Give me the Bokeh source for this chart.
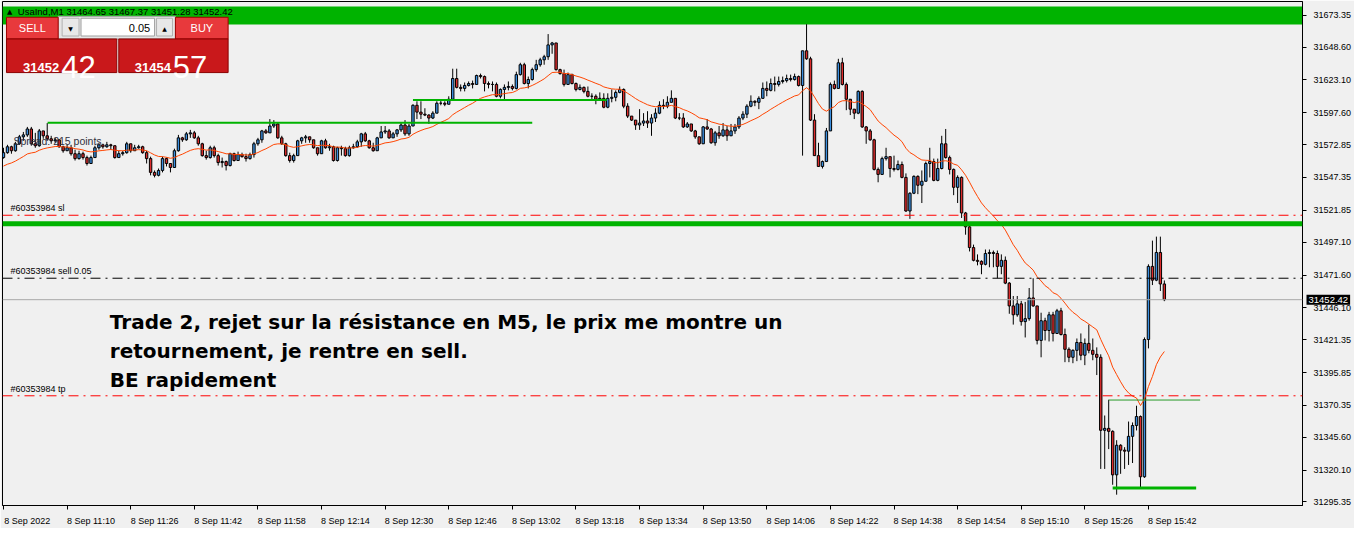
from bokeh.plotting import figure
from bokeh.models import (Range1d, FixedTicker, PrintfTickFormatter, Span, Label,
                          BoxAnnotation, ColumnDataSource, LinearAxis)
from bokeh.embed import file_html
from bokeh.resources import INLINE

# ---------------- data ----------------
symbol = "UsaInd"
timeframe = "M1"
first_open = 31562.8

closes = [
31566.6, 31571.2, 31568.1, 31573.5, 31578.9, 31580.4, 31585.0, 31573.5, 31572.0, 31583.5,
31579.7, 31577.4, 31575.8, 31576.6, 31571.2, 31568.1, 31570.4, 31565.8, 31562.0, 31565.8,
31562.8, 31558.2, 31562.8, 31570.4, 31572.7, 31571.2, 31572.7, 31572.0, 31562.8, 31565.8,
31566.6, 31573.5, 31568.1, 31570.4, 31571.2, 31566.6, 31562.0, 31551.3, 31549.0, 31552.8,
31562.0, 31558.2, 31555.1, 31568.1, 31578.1, 31576.6, 31581.2, 31582.0, 31578.1, 31573.5,
31564.3, 31562.8, 31570.4, 31564.3, 31558.9, 31559.7, 31556.6, 31565.8, 31560.5, 31565.1,
31563.5, 31562.0, 31565.1, 31573.5, 31576.6, 31583.5, 31582.0, 31587.3, 31588.9, 31578.1,
31573.5, 31564.3, 31560.5, 31564.3, 31575.8, 31578.1, 31578.9, 31576.6, 31570.4, 31565.8,
31575.8, 31570.4, 31571.2, 31560.5, 31570.4, 31569.7, 31564.3, 31570.4, 31571.2, 31575.0,
31581.2, 31575.8, 31570.4, 31568.1, 31578.1, 31582.7, 31583.5, 31578.1, 31581.2, 31584.3,
31588.1, 31581.2, 31587.3, 31603.4, 31598.1, 31596.5, 31595.8, 31593.5, 31597.3, 31605.0,
31605.0, 31604.2, 31608.1, 31624.2, 31617.3, 31616.5, 31618.8, 31620.3, 31619.6, 31626.5,
31625.7, 31620.3, 31619.6, 31619.6, 31610.4, 31615.7, 31617.3, 31618.0, 31616.5, 31627.2,
31634.9, 31620.3, 31623.4, 31631.1, 31634.9, 31638.7, 31641.1, 31650.3, 31651.8, 31631.1,
31628.0, 31619.6, 31627.2, 31620.3, 31615.7, 31617.3, 31614.2, 31610.4, 31610.4, 31608.1,
31608.8, 31601.9, 31608.8, 31609.6, 31613.4, 31615.7, 31602.7, 31595.0, 31591.9, 31588.1,
31589.6, 31591.2, 31589.6, 31593.5, 31597.3, 31603.4, 31602.7, 31605.7, 31608.8, 31593.5,
31593.5, 31586.6, 31588.9, 31583.5, 31578.9, 31573.5, 31586.6, 31585.0, 31574.3, 31582.0,
31579.7, 31584.3, 31579.7, 31583.5, 31586.6, 31593.5, 31596.5, 31602.7, 31606.5, 31605.7,
31608.8, 31616.5, 31615.0, 31620.3, 31619.6, 31621.9, 31622.6, 31624.2, 31623.4, 31625.7,
31618.8, 31645.7, 31639.5, 31591.9, 31564.3, 31555.9, 31559.7, 31583.5, 31619.6, 31616.5,
31636.4, 31619.6, 31608.1, 31600.4, 31597.3, 31614.2, 31586.6, 31583.5, 31576.6, 31553.6,
31549.7, 31562.0, 31563.5, 31554.3, 31553.6, 31557.4, 31547.4, 31521.3, 31535.1, 31548.2,
31541.3, 31544.4, 31558.2, 31559.7, 31545.1, 31554.3, 31573.5, 31562.8, 31553.6, 31539.7,
31547.4, 31519.8, 31509.0, 31492.9, 31483.0, 31482.2, 31479.9, 31488.3, 31489.1, 31488.3,
31478.3, 31483.0, 31465.3, 31447.6, 31440.7, 31449.2, 31435.4, 31437.7, 31453.8, 31447.6,
31420.8, 31436.1, 31428.5, 31440.7, 31426.2, 31443.8, 31425.4, 31413.9, 31407.7, 31413.1,
31419.2, 31409.3, 31418.5, 31413.1, 31410.0, 31407.7, 31351.0, 31352.5, 31350.2, 31316.4,
31339.4, 31335.6, 31334.8, 31346.3, 31354.7, 31361.7, 31314.9, 31421.5, 31478.3, 31467.6,
31489.1, 31464.65, 31452.42]

highs = [
31570.4, 31572.7, 31572.0, 31575.0, 31580.4, 31582.7, 31586.6, 31586.6, 31582.0, 31585.0,
31583.5, 31589.6, 31579.7, 31578.1, 31576.6, 31572.0, 31572.7, 31572.7, 31568.9, 31568.1,
31567.4, 31564.3, 31564.3, 31572.0, 31574.3, 31573.5, 31575.0, 31573.5, 31572.0, 31568.1,
31568.1, 31575.0, 31572.0, 31572.7, 31572.7, 31572.0, 31568.1, 31563.5, 31552.8, 31554.3,
31563.5, 31562.8, 31558.2, 31569.7, 31580.4, 31578.9, 31582.7, 31584.3, 31583.5, 31579.7,
31574.3, 31568.1, 31572.0, 31572.0, 31565.8, 31562.8, 31560.5, 31566.6, 31566.6, 31567.4,
31566.6, 31565.8, 31566.6, 31575.0, 31578.1, 31584.3, 31585.0, 31592.7, 31591.9, 31590.4,
31579.7, 31574.3, 31566.6, 31565.8, 31576.6, 31578.9, 31580.4, 31578.9, 31575.8, 31570.4,
31576.6, 31577.4, 31573.5, 31572.0, 31571.2, 31572.0, 31571.2, 31572.0, 31573.5, 31576.6,
31582.0, 31582.7, 31576.6, 31574.3, 31578.9, 31587.3, 31587.3, 31585.0, 31582.7, 31585.0,
31589.6, 31591.9, 31588.9, 31604.2, 31606.5, 31606.5, 31601.1, 31596.5, 31598.8, 31606.5,
31607.3, 31606.5, 31610.4, 31631.8, 31631.8, 31619.6, 31621.1, 31621.9, 31622.6, 31627.2,
31628.0, 31626.5, 31621.9, 31621.9, 31621.1, 31616.5, 31619.6, 31621.9, 31619.6, 31629.5,
31636.4, 31636.4, 31625.7, 31632.6, 31638.7, 31640.3, 31642.6, 31658.7, 31652.6, 31647.2,
31631.8, 31631.1, 31628.8, 31628.0, 31621.1, 31619.6, 31618.0, 31618.0, 31612.7, 31611.9,
31613.4, 31612.7, 31612.7, 31615.7, 31615.0, 31618.0, 31616.5, 31605.0, 31595.0, 31591.2,
31600.4, 31597.3, 31598.8, 31596.5, 31601.1, 31606.5, 31608.1, 31610.4, 31615.0, 31607.3,
31597.3, 31597.3, 31590.4, 31588.9, 31584.3, 31578.9, 31587.3, 31592.7, 31585.8, 31583.5,
31587.3, 31589.6, 31587.3, 31588.9, 31588.9, 31595.0, 31598.8, 31604.2, 31611.1, 31607.3,
31610.4, 31621.1, 31621.9, 31624.2, 31625.7, 31625.7, 31625.7, 31627.2, 31627.2, 31628.0,
31626.5, 31645.7, 31666.4, 31641.1, 31596.5, 31574.3, 31560.5, 31585.8, 31621.1, 31622.6,
31639.5, 31640.3, 31621.1, 31608.1, 31600.4, 31615.0, 31615.0, 31587.3, 31585.0, 31577.4,
31555.1, 31563.5, 31570.4, 31563.5, 31564.3, 31560.5, 31559.7, 31550.5, 31535.9, 31549.0,
31549.0, 31552.8, 31559.7, 31570.4, 31562.0, 31562.0, 31579.7, 31585.0, 31564.3, 31554.3,
31549.0, 31548.2, 31520.6, 31510.6, 31495.2, 31487.6, 31483.0, 31491.4, 31491.4, 31490.6,
31490.6, 31487.6, 31486.0, 31466.1, 31455.3, 31455.3, 31451.5, 31450.7, 31461.5, 31469.1,
31446.9, 31442.3, 31438.4, 31443.0, 31443.0, 31445.3, 31446.1, 31430.0, 31415.4, 31413.9,
31422.3, 31426.2, 31422.3, 31433.1, 31422.3, 31415.4, 31410.0, 31362.5, 31374.7, 31351.0,
31343.3, 31340.2, 31337.9, 31357.8, 31357.1, 31370.1, 31362.5, 31423.1, 31479.9, 31498.3,
31501.4, 31501.4, 31467.37]

lows = [
31562.0, 31565.8, 31565.8, 31567.4, 31572.7, 31575.8, 31578.9, 31572.0, 31570.4, 31571.2,
31577.4, 31575.8, 31573.5, 31574.3, 31570.4, 31566.6, 31568.1, 31564.3, 31560.5, 31561.2,
31561.2, 31556.6, 31558.2, 31562.8, 31568.9, 31569.7, 31570.4, 31568.9, 31562.0, 31562.8,
31564.3, 31565.8, 31566.6, 31568.1, 31569.7, 31565.8, 31558.2, 31549.0, 31547.4, 31548.2,
31551.3, 31555.9, 31551.3, 31555.1, 31567.4, 31575.0, 31575.8, 31578.1, 31577.4, 31572.0,
31563.5, 31561.2, 31562.0, 31562.8, 31556.6, 31555.1, 31552.8, 31555.9, 31559.7, 31560.5,
31562.8, 31559.7, 31561.2, 31562.8, 31572.0, 31574.3, 31581.2, 31582.7, 31585.8, 31577.4,
31572.7, 31563.5, 31558.9, 31558.9, 31564.3, 31573.5, 31574.3, 31574.3, 31569.7, 31564.3,
31566.6, 31569.7, 31568.1, 31559.7, 31559.7, 31564.3, 31563.5, 31563.5, 31569.7, 31570.4,
31571.2, 31575.0, 31569.7, 31567.4, 31568.1, 31578.1, 31581.2, 31577.4, 31578.9, 31578.9,
31582.7, 31579.7, 31579.7, 31587.3, 31592.7, 31592.7, 31595.0, 31588.9, 31592.7, 31597.3,
31603.4, 31602.7, 31604.2, 31608.1, 31616.5, 31614.2, 31614.2, 31618.0, 31616.5, 31619.6,
31624.2, 31614.2, 31616.5, 31614.2, 31609.6, 31608.8, 31607.3, 31615.0, 31615.0, 31615.7,
31626.5, 31619.6, 31616.5, 31622.6, 31629.5, 31633.4, 31634.9, 31638.7, 31643.4, 31630.3,
31627.2, 31618.0, 31619.6, 31619.6, 31614.2, 31615.0, 31612.7, 31609.6, 31608.1, 31604.2,
31607.3, 31601.1, 31601.1, 31605.7, 31606.5, 31612.7, 31601.1, 31593.5, 31591.2, 31584.3,
31584.3, 31587.3, 31585.8, 31579.7, 31590.4, 31596.5, 31600.4, 31601.1, 31605.7, 31592.7,
31591.9, 31585.8, 31585.8, 31582.7, 31577.4, 31572.7, 31573.5, 31584.3, 31573.5, 31572.0,
31577.4, 31578.9, 31575.8, 31579.7, 31581.2, 31585.0, 31591.9, 31593.5, 31601.9, 31602.7,
31600.4, 31608.8, 31610.4, 31614.2, 31614.2, 31618.0, 31620.3, 31621.1, 31621.9, 31622.6,
31618.0, 31564.3, 31638.7, 31591.2, 31564.3, 31555.9, 31554.3, 31559.7, 31584.3, 31615.7,
31616.5, 31618.8, 31599.6, 31595.8, 31592.7, 31596.5, 31585.8, 31573.5, 31575.8, 31552.8,
31543.6, 31550.5, 31560.5, 31547.4, 31552.0, 31552.8, 31546.7, 31520.6, 31515.2, 31534.4,
31534.4, 31527.5, 31544.4, 31547.4, 31544.4, 31544.4, 31553.6, 31562.0, 31549.7, 31533.6,
31527.5, 31515.9, 31502.9, 31489.9, 31482.2, 31479.1, 31472.2, 31479.1, 31477.6, 31477.6,
31469.1, 31472.2, 31464.5, 31441.5, 31433.1, 31439.2, 31432.3, 31423.1, 31436.1, 31446.9,
31417.7, 31407.7, 31420.8, 31420.0, 31420.0, 31426.2, 31424.6, 31403.9, 31403.9, 31403.1,
31404.7, 31405.4, 31401.6, 31410.8, 31405.4, 31393.9, 31321.0, 31321.0, 31336.4, 31308.7,
31301.0, 31317.2, 31321.0, 31324.1, 31325.6, 31350.9, 31306.4, 31314.1, 31414.6, 31463.8,
31466.8, 31459.2, 31451.28]

ema_period = 20
ema_seed = 31555.1

x_tick_bars = [0, 16, 32, 48, 64, 80, 96, 112, 128, 144, 160, 176, 192, 208, 224, 240, 256, 272, 288]
x_tick_labels = ["8 Sep 2022", "8 Sep 11:10", "8 Sep 11:26", "8 Sep 11:42", "8 Sep 11:58",
                 "8 Sep 12:14", "8 Sep 12:30", "8 Sep 12:46", "8 Sep 13:02", "8 Sep 13:18",
                 "8 Sep 13:34", "8 Sep 13:50", "8 Sep 14:06", "8 Sep 14:22", "8 Sep 14:38",
                 "8 Sep 14:54", "8 Sep 15:10", "8 Sep 15:26", "8 Sep 15:42"]
y_ticks = [31673.35, 31648.60, 31623.10, 31597.60, 31572.85, 31547.35, 31521.85, 31497.10,
           31471.60, 31446.10, 31421.35, 31395.85, 31370.35, 31345.60, 31320.10, 31295.35]

zone_bottom, zone_top = 31666.2, 31680.2
resistance_level = 31511.5
order_id = "#60353984"
lot = 0.05
sl_price = 31518.0
entry_price = 31469.1
tp_price = 31377.8
bid = 31452.42
ask = 31454.57

trend_x0 = [11.1, 103.0, 279.0, 278.0]
trend_x1 = [133.0, 151.75, 300.0, 301.0]
trend_y = [31589.85, 31607.5, 31306.2, 31374.5]
trend_w = [2, 2, 3, 1]

note_lines = ["Trade 2, rejet sur la résistance en M5, le prix me montre un",
              "retournement, je rentre en sell.",
              "BE rapidement"]

# ---------------- derived ----------------
n = len(closes)
xs = list(range(n))
opens = [first_open] + closes[:-1]
hi = [max(h, o, c) for h, o, c in zip(highs, opens, closes)]
lo = [min(l, o, c) for l, o, c in zip(lows, opens, closes)]
top = [max(o, c) for o, c in zip(opens, closes)]
bot = [min(o, c) for o, c in zip(opens, closes)]
col = ["#3b8fe0" if c >= o else "#dd2c2c" for o, c in zip(opens, closes)]

ema = []
e = ema_seed
k = 2.0 / (ema_period + 1)
for c in closes:
    e = e + (c - e) * k
    ema.append(e)

src = ColumnDataSource(dict(x=xs, hi=hi, lo=lo, top=top, bot=bot, col=col))

BG = "#f0f0f0"
FONT = "Liberation Sans"

p = figure(width=1354, height=528, x_range=Range1d(-0.25, 326.75),
           y_range=Range1d(31292.6, 31684.0), y_axis_location=None,
           output_backend="svg", toolbar_location=None,
           background_fill_color=BG, border_fill_color=BG,
           min_border_left=2, min_border_right=0, min_border_top=1, min_border_bottom=0)
p.grid.visible = False
p.outline_line_color = "black"
p.outline_line_width = 1

# x axis: labels on shifted major ticks, tick marks on minor ticks at the true times
label_shift = 6
xa = p.xaxis[0]
xa.ticker = FixedTicker(ticks=[b + label_shift for b in x_tick_bars], minor_ticks=x_tick_bars)
xa.major_label_overrides = {b + label_shift: t for b, t in zip(x_tick_bars, x_tick_labels)}
xa.major_tick_out = 0
xa.major_tick_in = 0
xa.minor_tick_out = 4
xa.minor_tick_in = 0
xa.minor_tick_line_color = "black"
xa.axis_line_color = "black"
xa.major_label_standoff = 6
xa.major_label_text_font = FONT
xa.major_label_text_font_size = "9px"
xa.major_label_text_color = "black"

# price axis: tick marks (inner), bid tag panel, labels (outer, pulled back over the tag panel)
tick_axis = LinearAxis(ticker=FixedTicker(ticks=[], minor_ticks=y_ticks), major_tick_out=0,
                       major_tick_in=0, minor_tick_out=4, minor_tick_in=0,
                       minor_tick_line_color="black", axis_line_color="black")
p.add_layout(tick_axis, "right")

tag_kw = {}
if "padding" in Label.properties():
    tag_kw["padding"] = 2
p.add_layout(Label(x=326.75, y=bid, x_offset=4, text=f"{bid:.2f}", text_font=FONT,
                   text_font_size="9.5px", text_color="white", text_baseline="middle",
                   background_fill_color="black", background_fill_alpha=1.0, **tag_kw), "right")

label_axis = LinearAxis(ticker=FixedTicker(ticks=y_ticks), formatter=PrintfTickFormatter(format="%.2f"),
                        major_tick_out=0, major_tick_in=0, minor_tick_line_color=None,
                        major_tick_line_color=None, axis_line_color=None,
                        major_label_standoff=-37, major_label_text_font=FONT,
                        major_label_text_font_size="9px", major_label_text_color="black")
p.add_layout(label_axis, "right")

# resistance zone (background)
p.add_layout(BoxAnnotation(bottom=zone_bottom, top=zone_top, fill_color="#00b300",
                           fill_alpha=1.0, line_alpha=0, level="underlay"))

# candles
p.segment(x0="x", y0="lo", x1="x", y1="hi", source=src, line_color="black", line_width=1)
p.vbar(x="x", width=0.6, top="top", bottom="bot", source=src,
       fill_color="col", line_color="black", line_width=1)

# moving average
p.line(xs, ema, line_color="#ff4500", line_width=1)

# trend lines
p.segment(x0=trend_x0, y0=trend_y, x1=trend_x1, y1=trend_y,
          line_color=["#00b300", "#00b300", "#00b300", "#2a9a2a"], line_width=trend_w)

# horizontal levels
p.add_layout(Span(location=resistance_level, dimension="width", line_color="#00b300", line_width=5))
p.add_layout(Span(location=sl_price, dimension="width", line_color="#ff0000", line_width=1,
                  line_dash="10 5 2 5"))
p.add_layout(Span(location=entry_price, dimension="width", line_color="black", line_width=1,
                  line_dash="10 5 2 5"))
p.add_layout(Span(location=tp_price, dimension="width", line_color="#ff0000", line_width=1,
                  line_dash="10 5 2 5"))
p.add_layout(Span(location=bid, dimension="width", line_color="#a8a8a8", line_width=1))

for txt, yv in [(f"{order_id} sl", sl_price), (f"{order_id} sell {lot:.2f}", entry_price),
                (f"{order_id} tp", tp_price)]:
    p.add_layout(Label(x=1.75, y=yv, y_offset=2, text=txt, text_font=FONT,
                       text_font_size="9px", text_color="black", text_baseline="bottom"))

# annotation text
for line, yv in zip(note_lines, [31435.4, 31412.7, 31390.1]):
    p.add_layout(Label(x=26.75, y=yv, text=line, text_font="DejaVu Sans",
                       text_font_style="bold", text_font_size="20px", text_color="black",
                       text_baseline="alphabetic"))

# spread
spread_pts = round((ask - bid) * 100)
p.add_layout(Label(x=2.5, y=31575.8, text=f"Spread: {spread_pts} points.", text_font=FONT,
                   text_font_size="10.5px", text_color="#303040", text_baseline="alphabetic"))

# ---------------- one-click trading panel ----------------
panel_l = [13.75, 19.5, 14.75, 38.5, 0.75, 43.25, 0.75, 29.0]
panel_r = [43.25, 38.0, 19.0, 42.5, 13.75, 56.5, 28.5, 56.5]
panel_t = [31672.5, 31671.0, 31671.0, 31671.0, 31671.75, 31671.75, 31654.9, 31654.9]
panel_b = [31654.9, 31657.2, 31657.2, 31657.2, 31654.9, 31654.9, 31628.8, 31628.8]
panel_f = ["#e4e4e4", "white", "#e8e8e8", "#e8e8e8", "#e8393c", "#e8393c", "#c9181b", "#c9181b"]
panel_c = ["#a0a0a0", "#a0a0a0", "#b0b0b0", "#b0b0b0", "#a00000", "#a00000", "#8a0000", "#8a0000"]
p.quad(left=panel_l, right=panel_r, top=panel_t, bottom=panel_b, fill_color=panel_f,
       line_color=panel_c, line_width=1)

y_btn = 31663.3
p.add_layout(Label(x=7.25, y=y_btn, text="SELL", text_font=FONT, text_font_size="11px",
                   text_color="white", text_align="center", text_baseline="middle"))
p.add_layout(Label(x=49.9, y=y_btn, text="BUY", text_font=FONT, text_font_size="11px",
                   text_color="white", text_align="center", text_baseline="middle"))
p.add_layout(Label(x=36.9, y=y_btn, text=f"{lot:.2f}", text_font=FONT, text_font_size="11px",
                   text_color="black", text_align="right", text_baseline="middle"))
p.add_layout(Label(x=16.9, y=y_btn, text="▼", text_font="DejaVu Sans", text_font_size="6px",
                   text_color="black", text_align="center", text_baseline="middle"))
p.add_layout(Label(x=40.5, y=y_btn, text="▲", text_font="DejaVu Sans", text_font_size="6px",
                   text_color="black", text_align="center", text_baseline="middle"))

bid_s = f"{bid:.2f}"
ask_s = f"{ask:.2f}"
y_base = 31633.0
for big_x, s in [(14.0, bid_s), (42.1, ask_s)]:
    a, b = s.split(".")
    p.add_layout(Label(x=big_x, y=y_base, text=a, text_font=FONT, text_font_style="bold",
                       text_font_size="13px", text_color="white", text_align="right",
                       text_baseline="alphabetic"))
    p.add_layout(Label(x=big_x + 0.5, y=y_base, text=b, text_font=FONT,
                       text_font_size="31px", text_color="white", text_align="left",
                       text_baseline="alphabetic"))

# header line
header = f"{symbol},{timeframe}  {opens[-1]:.2f} {hi[-1]:.2f} {lo[-1]:.2f} {closes[-1]:.2f}"
p.add_layout(Label(x=0.9, y=31676.0, text="▲", text_font="DejaVu Sans", text_font_size="7px",
                   text_color="black", text_baseline="alphabetic"))
p.add_layout(Label(x=3.6, y=31676.0, text=header, text_font=FONT, text_font_size="9.5px",
                   text_color="black", text_baseline="alphabetic"))

open("out.html", "w").write(file_html(p, INLINE))
